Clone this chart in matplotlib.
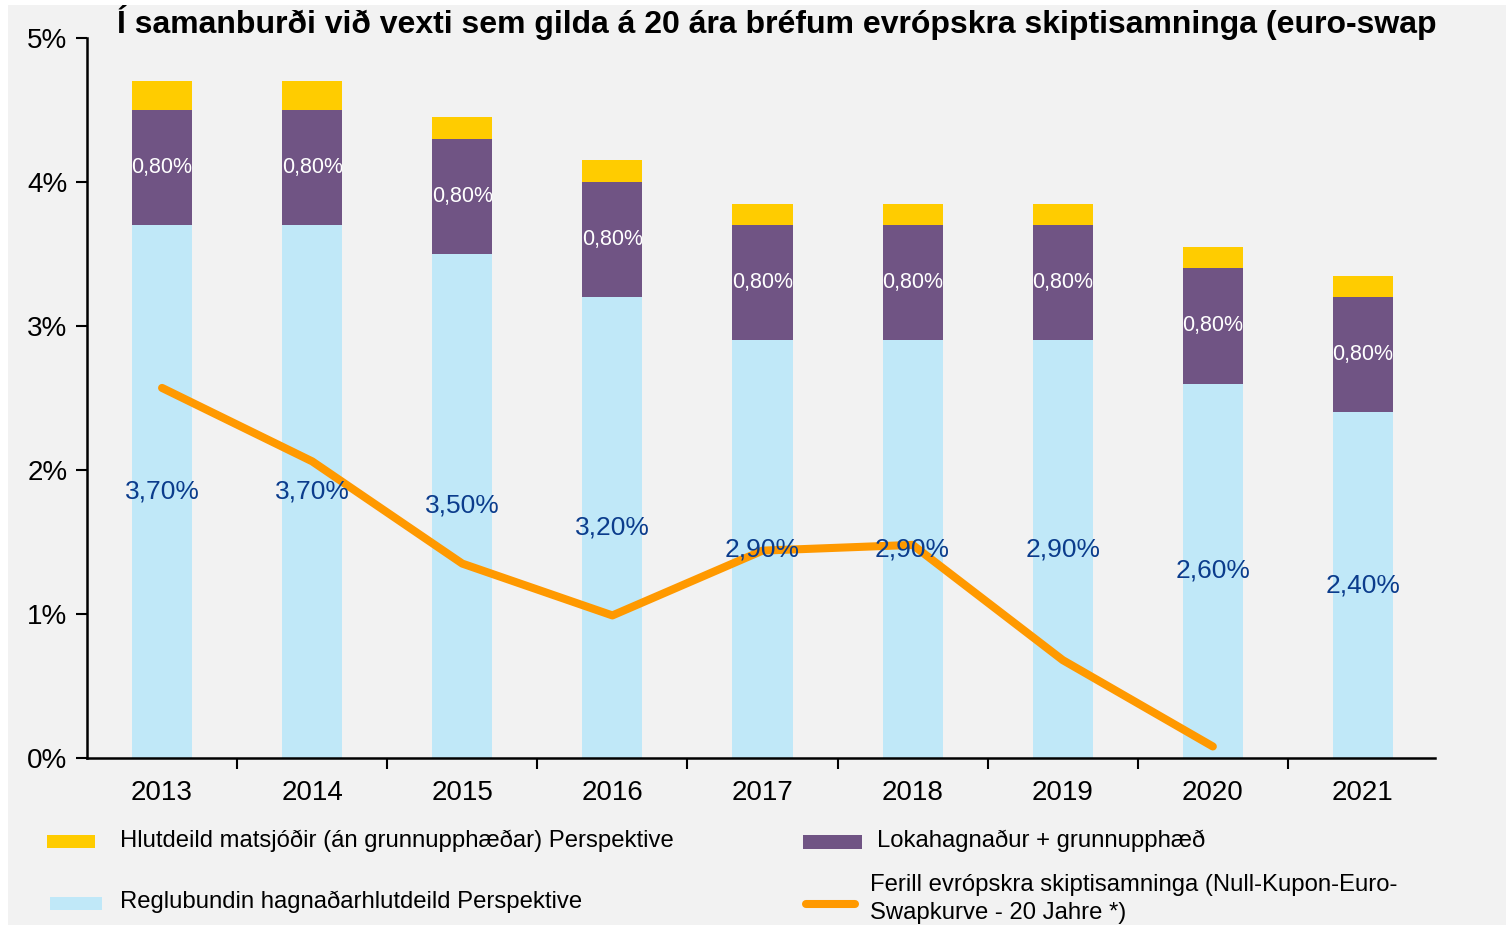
import matplotlib.pyplot as plt
import numpy as np
from matplotlib.patches import Rectangle
from matplotlib.lines import Line2D

plt.rcParams['font.family'] = ['Liberation Sans', 'DejaVu Sans']

years = ['2013', '2014', '2015', '2016', '2017', '2018', '2019', '2020', '2021']
regular = [3.70, 3.70, 3.50, 3.20, 2.90, 2.90, 2.90, 2.60, 2.40]
final_bonus = [0.80, 0.80, 0.80, 0.80, 0.80, 0.80, 0.80, 0.80, 0.80]
valuation = [0.20, 0.20, 0.15, 0.15, 0.15, 0.15, 0.15, 0.15, 0.15]
swap_years = ['2013', '2014', '2015', '2016', '2017', '2018', '2019', '2020']
swap_curve = [2.57, 2.06, 1.35, 0.99, 1.44, 1.48, 0.68, 0.08]

# title as far as it is visible in the original
title = ('Í samanburði við vexti sem gilda á 20 ára bréfum evrópskra '
         'skiptisamninga (euro-swap')
lbl_val = 'Hlutdeild matsjóðir (án grunnupphæðar) Perspektive'
lbl_reg = 'Reglubundin hagnaðarhlutdeild Perspektive'
lbl_fin = 'Lokahagnaður + grunnupphæð'
lbl_swap = 'Ferill evrópskra skiptisamninga (Null-Kupon-Euro-\nSwapkurve - 20 Jahre *)'

c_reg = '#c0e8f8'
c_fin = '#705484'
c_val = '#ffcc00'
c_swap = '#ff9900'
c_lbl = '#0b3c8c'
bg = '#f2f2f2'

W, H = 1506, 925
fig = plt.figure(figsize=(W / 100, H / 100), dpi=100, facecolor='white')
fig.patches.append(Rectangle((8 / W, 0), 1 - 8 / W, 1 - 5 / H, transform=fig.transFigure,
                             facecolor=bg, edgecolor='none', zorder=-10))

ax = fig.add_axes([87 / W, 1 - 758 / H, (1435 - 87) / W, (758 - 38) / H])
ax.set_facecolor(bg)

x = np.arange(len(years))
width = 0.4
reg = np.array(regular)
fin = np.array(final_bonus)
val = np.array(valuation)

ax.bar(x, reg, width, color=c_reg, zorder=2)
ax.bar(x, fin, width, bottom=reg, color=c_fin, zorder=2)
ax.bar(x, val, width, bottom=reg + fin, color=c_val, zorder=2)

xs = np.arange(len(swap_years))
ax.plot(xs, swap_curve, color=c_swap, lw=5.8, solid_capstyle='round',
        solid_joinstyle='round', zorder=3)

for i in range(len(years)):
    ax.text(x[i], reg[i] / 2, f'{regular[i]:.2f}%'.replace('.', ','),
            ha='center', va='center', fontsize=19, color=c_lbl, zorder=4)
    ax.text(x[i], reg[i] + fin[i] / 2, f'{final_bonus[i]:.2f}%'.replace('.', ','),
            ha='center', va='center', fontsize=15.5, color='white', zorder=4)

ax.set_xlim(-0.5, 8.48)
ax.set_ylim(0, 5)
ax.set_yticks([0, 1, 2, 3, 4, 5])
ax.set_yticklabels(['0%', '1%', '2%', '3%', '4%', '5%'])
ax.set_xticks(x)
ax.set_xticklabels(years)
ax.set_xticks(np.arange(0.5, 8, 1), minor=True)
ax.tick_params(axis='x', which='major', length=0, labelsize=20, pad=16)
ax.tick_params(axis='x', which='minor', length=8, width=1.5, direction='out')
ax.tick_params(axis='y', length=8, width=1.5, labelsize=20, pad=6)
for s in ['top', 'right']:
    ax.spines[s].set_visible(False)
for s in ['left', 'bottom']:
    ax.spines[s].set_linewidth(1.8)

fig.text(117 / W, 1 - 23 / H, title, fontsize=23, fontweight='bold',
         ha='left', va='center')

# legend, drawn by hand
def fx(px):
    return px / W

def fy(py):
    return 1 - py / H

fig.patches.append(Rectangle((fx(47), fy(848)), fx(48), 13 / H, transform=fig.transFigure,
                             facecolor=c_val, edgecolor='none'))
fig.patches.append(Rectangle((fx(50), fy(910)), fx(52), 13 / H, transform=fig.transFigure,
                             facecolor=c_reg, edgecolor='none'))
fig.patches.append(Rectangle((fx(803), fy(849)), fx(59), 14 / H, transform=fig.transFigure,
                             facecolor=c_fin, edgecolor='none'))
fig.lines.append(Line2D([fx(806), fx(855)], [fy(904), fy(904)], transform=fig.transFigure,
                        color=c_swap, lw=5.8, solid_capstyle='round'))

fig.text(fx(120), fy(841), lbl_val, fontsize=17.2, ha='left', va='center')
fig.text(fx(120), fy(902), lbl_reg, fontsize=17.2, ha='left', va='center')
fig.text(fx(877), fy(841), lbl_fin, fontsize=17.2, ha='left', va='center')
fig.text(fx(870), fy(899), lbl_swap, fontsize=17.2, ha='left', va='center',
         linespacing=1.3)

fig.savefig('out.png', dpi=100, facecolor='white')
